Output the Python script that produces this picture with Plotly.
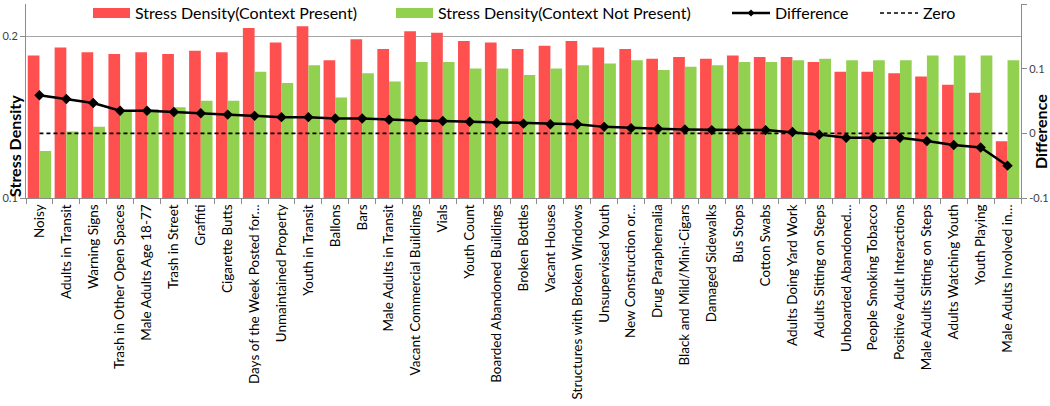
import plotly.graph_objects as go

categories = [
    "Noisy", "Adults in Transit", "Warning Signs", "Trash in Other Open Spaces",
    "Male Adults Age 18-77", "Trash in Street", "Graffiti", "Cigarette Butts",
    "Days of the Week Posted for…", "Unmaintained Property", "Youth in Transit",
    "Ballons", "Bars", "Male Adults in Transit", "Vacant Commercial Buildings",
    "Vials", "Youth Count", "Boarded Abandoned Buildings", "Broken Bottles",
    "Vacant Houses", "Structures with Broken Windows", "Unsupervised Youth",
    "New Construction or…", "Drug Paraphernalia", "Black and Mild/Mini-Cigars",
    "Damaged Sidewalks", "Bus Stops", "Cotton Swabs", "Adults Doing Yard Work",
    "Adults Sitting on Steps", "Unboarded Abandoned…", "People Smoking Tobacco",
    "Positive Adult Interactions", "Male Adults Sitting on Steps",
    "Adults Watching Youth", "Youth Playing", "Male Adults Involved in…",
]

context_present = [
    0.188, 0.193, 0.190, 0.189, 0.190, 0.189, 0.191, 0.190, 0.205, 0.196,
    0.206, 0.185, 0.198, 0.192, 0.203, 0.202, 0.197, 0.196, 0.192, 0.194,
    0.197, 0.193, 0.192, 0.186, 0.187, 0.186, 0.188, 0.187, 0.187, 0.184,
    0.178, 0.178, 0.177, 0.175, 0.170, 0.165, 0.135,
]

context_not_present = [
    0.129, 0.141, 0.144, 0.154, 0.155, 0.156, 0.160, 0.160, 0.178, 0.171,
    0.182, 0.162, 0.177, 0.172, 0.184, 0.184, 0.180, 0.180, 0.176, 0.180,
    0.182, 0.183, 0.185, 0.179, 0.181, 0.182, 0.184, 0.184, 0.185, 0.186,
    0.185, 0.185, 0.185, 0.188, 0.188, 0.188, 0.185,
]

difference = [
    0.059, 0.053, 0.047, 0.035, 0.035, 0.033, 0.031, 0.029, 0.027, 0.025,
    0.025, 0.023, 0.023, 0.021, 0.020, 0.019, 0.018, 0.016, 0.015, 0.014,
    0.014, 0.010, 0.008, 0.007, 0.006, 0.005, 0.005, 0.005, 0.002, -0.002,
    -0.007, -0.007, -0.007, -0.012, -0.018, -0.022, -0.050,
]

zero = [0.0] * len(categories)

RED = "#FF5050"
GREEN = "#92D050"
FONT = "Lato"

fig = go.Figure()
fig.add_trace(go.Bar(x=categories, y=context_present, name="Stress Density(Context Present)",
                     marker=dict(color=RED, line=dict(width=0)), showlegend=False))
fig.add_trace(go.Bar(x=categories, y=context_not_present, name="Stress Density(Context Not Present)",
                     marker=dict(color=GREEN, line=dict(width=0)), showlegend=False))
fig.add_trace(go.Scatter(x=categories, y=zero, name="Zero", mode="lines", yaxis="y2",
                         line=dict(color="black", width=1.6, dash="4px,3px"), showlegend=False))
fig.add_trace(go.Scatter(x=categories, y=difference, name="Difference", mode="lines+markers", yaxis="y2",
                         line=dict(color="black", width=2.5),
                         marker=dict(symbol="diamond", size=8, color="black"), showlegend=False))

fig.update_layout(
    width=1050, height=406,
    margin=dict(l=26, r=29, t=4, b=208, autoexpand=False),
    paper_bgcolor="white", plot_bgcolor="white",
    barmode="group", bargap=0.13, bargroupgap=0,
    font=dict(family=FONT, size=12, color="#404040"),
    xaxis=dict(
        type="category", range=[-0.5, len(categories) - 0.5], autorange=False,
        tickangle=-90, showline=True, linecolor="#8C8C8C", linewidth=1,
        ticks="outside", tickson="boundaries", ticklen=5, tickcolor="#8C8C8C",
        tickfont=dict(family=FONT, size=13.5, color="black"), showgrid=False, automargin=False,
    ),
    yaxis=dict(
        range=[0.1, 0.2198], tickvals=[0.1, 0.2], ticktext=["0.1", "0.2"],
        showline=True, linecolor="#8C8C8C", linewidth=1, ticks="outside", ticklen=5,
        tickcolor="#8C8C8C", showgrid=True, gridcolor="#A6A6A6", gridwidth=1,
        tickfont=dict(family=FONT, size=11, color="#404040"), zeroline=False, automargin=False,
    ),
    yaxis2=dict(
        overlaying="y", side="right", range=[-0.1, 0.2], tickvals=[-0.1, 0, 0.1, 0.2],
        ticktext=["-0.1", "0", "0.1", "0.2"], showline=True, linecolor="#8C8C8C", linewidth=1,
        ticks="outside", ticklen=5, tickcolor="#8C8C8C", showgrid=False, zeroline=False,
        tickfont=dict(family=FONT, size=11, color="#404040"), automargin=False,
    ),
)

# Custom Excel-like legend
def px_x(p):
    return (p - 26) / 995.0

def px_y(p):
    return (198 - p) / 194.0

legend_y = 13
shapes = []
annotations = []
items = [
    ("rect", RED, 93, 130, "Stress Density(Context Present)"),
    ("rect", GREEN, 396, 433, "Stress Density(Context Not Present)"),
    ("line", None, 732, 770, "Difference"),
    ("dash", None, 880, 918, "Zero"),
]
for kind, col, x0, x1, label in items:
    if kind == "rect":
        shapes.append(dict(type="rect", xref="paper", yref="paper",
                           x0=px_x(x0), x1=px_x(x1), y0=px_y(legend_y + 5), y1=px_y(legend_y - 5),
                           fillcolor=col, line=dict(width=0)))
    elif kind == "line":
        shapes.append(dict(type="line", xref="paper", yref="paper",
                           x0=px_x(x0), x1=px_x(x1), y0=px_y(legend_y), y1=px_y(legend_y),
                           line=dict(color="black", width=2.5)))
        cx = (x0 + x1) / 2
        shapes.append(dict(type="path", xref="paper", yref="paper",
                           path="M {a},{b} L {c},{d} L {e},{f} L {g},{h} Z".format(
                               a=px_x(cx - 3.5), b=px_y(legend_y), c=px_x(cx), d=px_y(legend_y - 3.5),
                               e=px_x(cx + 3.5), f=px_y(legend_y), g=px_x(cx), h=px_y(legend_y + 3.5)),
                           fillcolor="black", line=dict(width=0)))
    else:
        shapes.append(dict(type="line", xref="paper", yref="paper",
                           x0=px_x(x0), x1=px_x(x1), y0=px_y(legend_y), y1=px_y(legend_y),
                           line=dict(color="black", width=1.6, dash="4px,3px")))
    annotations.append(dict(text=label, xref="paper", yref="paper", x=px_x(x1 + 3), y=px_y(legend_y),
                            xanchor="left", yanchor="middle", showarrow=False,
                            font=dict(family=FONT, size=16, color="black")))

annotations.append(dict(text="<b>Stress Density</b>", xref="paper", yref="paper",
                        x=px_x(14), y=px_y(146), textangle=-90, showarrow=False,
                        xanchor="center", yanchor="middle",
                        font=dict(family=FONT, size=16, color="black")))
annotations.append(dict(text="<b>Difference</b>", xref="paper", yref="paper",
                        x=px_x(1040), y=px_y(132), textangle=-90, showarrow=False,
                        xanchor="center", yanchor="middle",
                        font=dict(family=FONT, size=16, color="black")))

fig.update_layout(shapes=shapes, annotations=annotations)

fig.write_html("out.html", config={"displayModeBar": False},
               post_script="document.body.style.margin='0px';")
